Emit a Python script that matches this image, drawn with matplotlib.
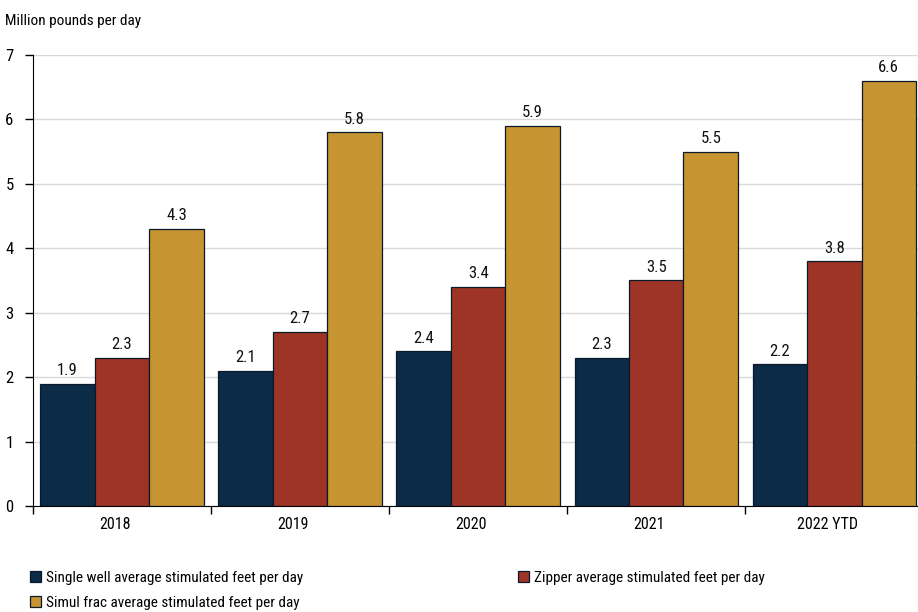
"""
Average stimulated feet per day by completion style, 2018 to 2022 YTD.
"""
import matplotlib
matplotlib.use("Agg")
import matplotlib.pyplot as plt
import numpy as np

plt.rcParams['font.family'] = ['Roboto Condensed', 'DejaVu Sans']
plt.rcParams['font.stretch'] = 'condensed'
plt.rcParams['font.size'] = 12

years = ["2018", "2019", "2020", "2021", "2022 YTD"]
single_well = [1.9, 2.1, 2.4, 2.3, 2.2]
zipper = [2.3, 2.7, 3.4, 3.5, 3.8]
simul_frac = [4.3, 5.8, 5.9, 5.5, 6.6]

series = [
    ("Single well average stimulated feet per day", single_well, "#0b2b47"),
    ("Zipper average stimulated feet per day", zipper, "#9e3425"),
    ("Simul frac average stimulated feet per day", simul_frac, "#c69430"),
]

fig = plt.figure(figsize=(9.18, 6.12), dpi=100)
ax = fig.add_axes([33 / 918, 106 / 612, 885 / 918, 451 / 612])

x = np.arange(len(years))
width = 0.306
bars = {}
for i, (name, vals, color) in enumerate(series):
    pos = x + (i - 1) * width
    b = ax.bar(pos, vals, width, color=color, edgecolor="#0a1a2a",
               linewidth=0.9, label=name, zorder=3)
    bars[name] = b
    for px, v in zip(pos, vals):
        ax.annotate(f"{v:.1f}", (px, v), xytext=(0, 4),
                    textcoords="offset points", ha="center", va="bottom",
                    fontsize=12, color="#111111")

ax.set_xlim(-0.5, 4.47)
ax.set_ylim(0, 7)
ax.set_yticks(range(8))
ax.yaxis.grid(True, color="#d9d9d9", linewidth=1, zorder=0)
ax.set_axisbelow(True)

# year labels sit a little left of their bar groups
ax.set_xticks(x - 0.04)
ax.set_xticklabels(years, fontsize=11.5)
ax.tick_params(axis="x", which="major", length=0, pad=8)
ax.set_xticks(np.append(-0.5, x[:-1] + 0.5), minor=True)
ax.tick_params(axis="x", which="minor", length=6, width=1, color="black")
ax.tick_params(axis="y", length=6, width=1, pad=8, color="black")

for side in ("top", "right"):
    ax.spines[side].set_visible(False)

fig.text(5 / 918, 1 - 21 / 612, "Million pounds per day", fontsize=11,
         va="center", ha="left")

handles = [bars[s[0]] for s in series]
order = [0, 2, 1]
fig.legend([handles[k] for k in order], [series[k][0] for k in order],
           ncol=2, loc="upper left", bbox_to_anchor=(30 / 918, 1 - 571 / 612),
           frameon=False, fontsize=11, handlelength=0.75, handleheight=0.75,
           handletextpad=0.33, columnspacing=14.0, labelspacing=0.7,
           borderpad=0, borderaxespad=0)

fig.savefig("out.png", dpi=100)
